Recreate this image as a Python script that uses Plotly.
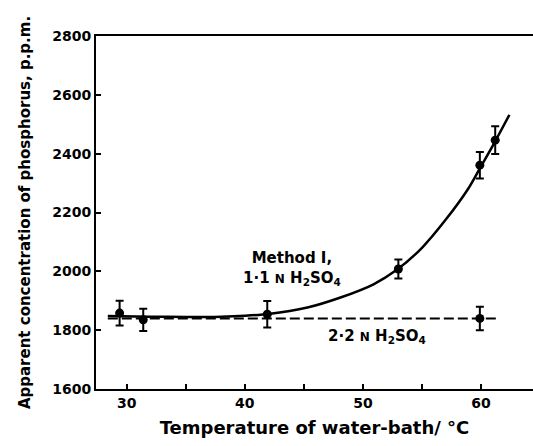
import plotly.graph_objects as go

# Data points (temperature °C, apparent concentration p.p.m., error)
m1_temp = [29.4, 31.4, 41.9, 53.0, 59.9, 61.2]
m1_conc = [1858, 1835, 1854, 2008, 2361, 2446]
m1_err = [42, 38, 45, 32, 45, 47]

m2_temp = [59.9]
m2_conc = [1840]
m2_err = [40]

# Fitted curve for method I
curve_temp = [28.4, 32, 35, 38, 40, 42, 45.3, 48.1, 50.9, 52.9, 55.0, 57.0, 58.9, 59.9, 61.2, 62.4]
curve_conc = [1848, 1846, 1845, 1846, 1849, 1855, 1877, 1911, 1956, 2006, 2080, 2175, 2280, 2350, 2442, 2532]

# Dashed line for 2.2 N
dash_temp = [28.4, 61.3]
dash_conc = [1840, 1840]

x_ticks = [30, 35, 40, 45, 50, 55, 60]
x_labels = ["30", "", "40", "", "50", "", "60"]
y_ticks = [1600, 1800, 2000, 2200, 2400, 2600, 2800]

FONT = "DejaVu Sans"

fig = go.Figure()
fig.add_trace(go.Scatter(x=dash_temp, y=dash_conc, mode="lines",
                         line=dict(color="black", width=2, dash="10px,4px"),
                         showlegend=False))
fig.add_trace(go.Scatter(x=curve_temp, y=curve_conc, mode="lines",
                         line=dict(color="black", width=2.5, shape="spline", smoothing=0.8),
                         showlegend=False))
fig.add_trace(go.Scatter(x=m1_temp, y=m1_conc, mode="markers",
                         marker=dict(color="black", size=9),
                         error_y=dict(type="data", array=m1_err, color="black", thickness=2, width=4),
                         showlegend=False))
fig.add_trace(go.Scatter(x=m2_temp, y=m2_conc, mode="markers",
                         marker=dict(color="black", size=9),
                         error_y=dict(type="data", array=m2_err, color="black", thickness=2, width=4),
                         showlegend=False))

fig.add_annotation(x=44.0, y=2010, text="<b>Method I,<br>1·1 <span style='font-size:12px'>N</span> H<sub>2</sub>SO<sub>4</sub></b>",
                   showarrow=False, font=dict(family=FONT, size=15, color="black"), align="center")
fig.add_annotation(x=51.2, y=1780, text="<b>2·2 <span style='font-size:12px'>N</span> H<sub>2</sub>SO<sub>4</sub></b>",
                   showarrow=False, font=dict(family=FONT, size=15, color="black"), align="center")

fig.update_layout(
    width=533, height=446,
    margin=dict(l=96, r=0, t=36, b=57),
    plot_bgcolor="white", paper_bgcolor="white",
    font=dict(family=FONT, size=14, color="black"),
    xaxis=dict(range=[27.4, 64.4], tickvals=x_ticks,
               ticktext=["<b>%s</b>" % t if t else "" for t in x_labels],
               ticks="inside", ticklen=5, tickwidth=2, tickcolor="black",
               showline=True, linecolor="black", linewidth=2, mirror=True,
               showgrid=False, zeroline=False,
               tickfont=dict(size=14),
               title=dict(text="<b>Temperature of water-bath/ °C</b>", font=dict(size=18), standoff=12)),
    yaxis=dict(range=[1600, 2800], tickvals=y_ticks,
               ticktext=["<b>%d</b>" % v for v in y_ticks],
               ticks="inside", ticklen=5, tickwidth=2, tickcolor="black",
               showline=True, linecolor="black", linewidth=2,
               showgrid=False, zeroline=False,
               tickfont=dict(size=14),
               title=dict(text="<b>Apparent concentration of phosphorus, p.p.m.</b>", font=dict(size=15), standoff=18)),
)

fig.write_html("out.html")
